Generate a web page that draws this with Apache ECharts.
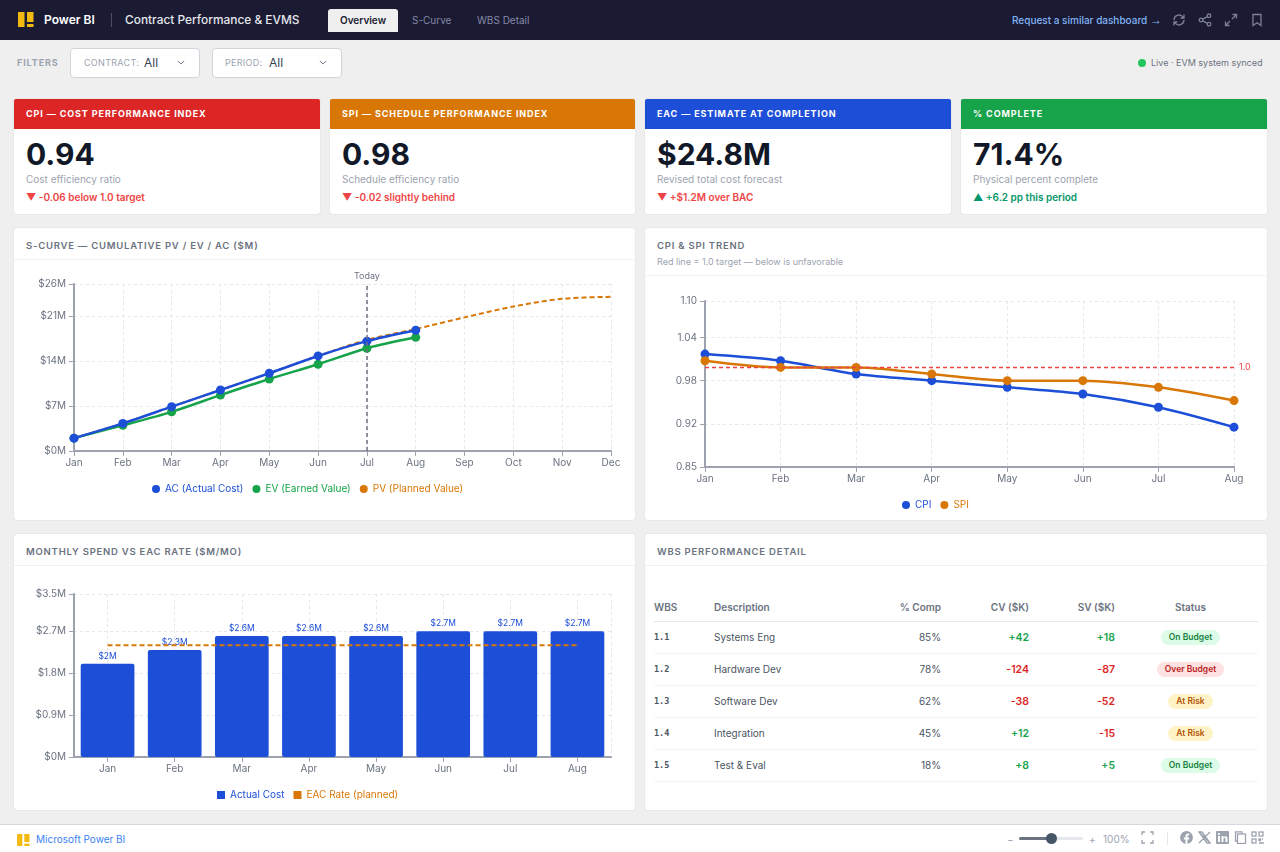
<!DOCTYPE html>
<html>
<head>
<meta charset="utf-8">
<title>Contract Performance & EVMS</title>
<script src="https://cdn.jsdelivr.net/npm/echarts@6/dist/echarts.min.js"></script>
<style>
* { box-sizing: border-box; margin: 0; padding: 0; }
html, body { width: 1280px; height: 852px; overflow: hidden; background: #f0efef; font-family: Inter, "Noto Sans", sans-serif; color: #111827; }
.topbar { position: absolute; left: 0; top: 0; width: 1280px; height: 40px; background: #1a1b33; }
.topbar > * { position: absolute; }
.brand { left: 44px; top: 12px; font-size: 12px; line-height: 16px; font-weight: 600; color: #fff; }
.divider { left: 111px; top: 13px; width: 1px; height: 14px; background: #4b4c66; }
.report { left: 125px; top: 11px; font-size: 11.9px; line-height: 18px; font-weight: 500; color: #e5e7eb; }
.tab { top: 9px; height: 23px; line-height: 23px; font-size: 10px; font-weight: 400; color: #8587a6; }
.tab.on { left: 328px; width: 70px; text-align: center; background: #f0efef; color: #1a1b33; font-weight: 600; border-radius: 3px 3px 0 0; }
.req { left: 1012px; top: 12px; font-size: 10px; line-height: 16px; font-weight: 500; color: #82b4f5; white-space: nowrap; }
.req i { font-family: "Liberation Sans", sans-serif; font-style: normal; font-size: 12px; }
.ico { width: 14px; height: 14px; top: 13px; fill: none; stroke: #7d7f92; stroke-width: 1.3; }
.filters > * { position: absolute; }
.flabel { left: 17px; top: 56px; font-size: 9px; line-height: 14px; font-weight: 700; letter-spacing: .9px; color: #9ca3af; }
.drop { top: 48px; width: 130px; height: 30px; background: #fff; border: 1px solid #d1d5db; border-radius: 4px; }
.drop span { position: absolute; top: 7px; font-size: 9px; line-height: 14px; letter-spacing: .3px; color: #9ca3af; }
.drop b { position: absolute; top: 6px; font-size: 12px; line-height: 16px; font-weight: 400; color: #374151; }
.drop svg { position: absolute; top: 10px; width: 8px; height: 7px; fill: none; stroke: #6b7280; stroke-width: 1.2; }
.live { left: 1151px; top: 56px; font-size: 9px; line-height: 14px; color: #6b7280; white-space: nowrap; }
.dot { left: 1138px; top: 59px; width: 8px; height: 8px; border-radius: 50%; background: #22c55e; }
.card { position: absolute; background: #fff; border-radius: 2px; box-shadow: 0 0 1px rgba(0,0,0,.28); overflow: hidden; }
.kpi { top: 99px; height: 115px; }
.kpi .head { height: 30px; padding-left: 12px; line-height: 30px; font-size: 9px; font-weight: 700; letter-spacing: .9px; color: #fff; white-space: nowrap; }
.kpi .val { position: absolute; left: 12px; top: 37px; font-size: 30px; line-height: 36px; font-weight: 700; color: #111827; }
.kpi .sub { position: absolute; left: 12px; top: 73px; font-size: 10px; line-height: 14px; color: #9ca3af; }
.kpi .delta { position: absolute; left: 12px; top: 91px; font-size: 10px; line-height: 14px; font-weight: 600; color: #ef4444; white-space: nowrap; }
.kpi .delta.up { color: #059669; }
.panel .title { position: absolute; left: 12px; top: 11px; font-size: 9.5px; line-height: 14px; font-weight: 600; letter-spacing: .77px; color: #6b7280; white-space: nowrap; }
.panel .note { position: absolute; left: 12px; top: 27px; font-size: 9px; line-height: 14px; color: #9ca3af; white-space: nowrap; }
.panel .rule { position: absolute; left: 0; right: 0; height: 1px; background: #f0f1f3; }
.chart { position: absolute; left: 0; right: 0; bottom: 0; }
table { position: absolute; left: 9px; top: 58px; width: 604px; border-collapse: collapse; table-layout: fixed; font-size: 10px; }
th { height: 29px; padding-top: 2px; font-weight: 600; color: #6b7280; text-align: left; border-bottom: 1px solid #e5e7eb; }
td { height: 32px; color: #4b5563; border-bottom: 1px solid #f3f4f6; }
.r { text-align: right; }
.c { text-align: center; padding-left: 8px; }
td.wbs { font-family: "DejaVu Sans Mono", monospace; font-size: 8.5px; font-weight: 700; color: #4b5563; }
td.num { font-weight: 600; font-size: 10.5px; }
.pos { color: #16a34a; }
.neg { color: #dc2626; }
.badge { display: inline-block; height: 15px; line-height: 15px; padding: 0 8px; border-radius: 8px; font-size: 8.5px; font-weight: 600; }
.badge.on { background: #dcfce7; color: #15803d; }
.badge.over { background: #fee2e2; color: #b91c1c; }
.badge.risk { background: #fef3c7; color: #b45309; }
.footer { position: absolute; left: 0; top: 824px; width: 1280px; height: 28px; background: #fff; border-top: 1px solid #d5d8dc; }
.footer > * { position: absolute; }
.ms { left: 36px; top: 7px; font-size: 10px; line-height: 14px; color: #3b82f6; }
.zoomtxt { top: 7px; font-size: 10px; line-height: 14px; color: #9ca3af; }
.track { left: 1019px; top: 12px; width: 64px; height: 3px; background: #e5e7eb; border-radius: 2px; }
.fill { left: 1019px; top: 12px; width: 32px; height: 3px; background: #6b7280; border-radius: 2px; }
.knob { left: 1046px; top: 8px; width: 11px; height: 11px; border-radius: 50%; background: #475569; }
.fic { top: 6px; width: 13px; height: 13px; fill: none; stroke: #9ca3af; stroke-width: 1.3; }
.fic.solid { fill: #9ca3af; stroke: none; }
.vbar { left: 1167px; top: 7px; width: 1px; height: 13px; background: #e5e7eb; }
</style>
</head>
<body>

<div class="topbar">
    <svg style="left:18px;top:12px;width:16px;height:16px" viewBox="0 0 16 16"><rect x="0" y="0" width="6.5" height="15" fill="#f2b90f"/><rect x="9" y="0" width="6.5" height="10" fill="#f2b90f"/><rect x="9" y="12" width="6.5" height="3" fill="#f2b90f"/></svg>
    <div class="brand">Power BI</div>
    <div class="divider"></div>
    <div class="report">Contract Performance &amp; EVMS</div>
    <div class="tab on">Overview</div>
    <div class="tab" style="left:412px">S-Curve</div>
    <div class="tab" style="left:477px">WBS Detail</div>
    <div class="req">Request a similar dashboard <i>→</i></div>
    <svg class="ico" style="left:1172px" viewBox="0 0 14 14"><path d="M2 7a5 5 0 0 1 8.6-3.4L12 5M12 1.5V5H8.6M12 7a5 5 0 0 1-8.6 3.4L2 9M2 12.5V9h3.4"/></svg>
    <svg class="ico" style="left:1198px" viewBox="0 0 14 14"><circle cx="11" cy="2.8" r="1.8"/><circle cx="3" cy="7" r="1.8"/><circle cx="11" cy="11.2" r="1.8"/><path d="M4.6 6.1l4.8-2.4M4.6 7.9l4.8 2.4"/></svg>
    <svg class="ico" style="left:1224px" viewBox="0 0 14 14"><path d="M8.5 1.5h4v4M12.5 1.5L8 6M5.5 12.5h-4v-4M1.5 12.5L6 8"/></svg>
    <svg class="ico" style="left:1250px" viewBox="0 0 14 14"><path d="M3 1.5h8v11L7 9.8 3 12.5z"/></svg>
</div>

<div class="filters">
    <div class="flabel">FILTERS</div>
    <div class="drop" style="left:70px"><span style="left:13px">CONTRACT:</span><b style="left:73px">All</b><svg style="left:106px" viewBox="0 0 10 8"><path d="M1 2l4 4 4-4"/></svg></div>
    <div class="drop" style="left:212px"><span style="left:12px">PERIOD:</span><b style="left:56px">All</b><svg style="left:106px" viewBox="0 0 10 8"><path d="M1 2l4 4 4-4"/></svg></div>
    <div class="dot"></div>
    <div class="live">Live · EVM system synced</div>
</div>

<div class="card kpi" style="left:14px;width:306px"><div class="head" style="background:#dc2626">CPI — COST PERFORMANCE INDEX</div><div class="val">0.94</div><div class="sub">Cost efficiency ratio</div><div class="delta">▼ -0.06 below 1.0 target</div></div>
<div class="card kpi" style="left:330px;width:305px"><div class="head" style="background:#d97706">SPI — SCHEDULE PERFORMANCE INDEX</div><div class="val">0.98</div><div class="sub">Schedule efficiency ratio</div><div class="delta">▼ -0.02 slightly behind</div></div>
<div class="card kpi" style="left:645px;width:306px"><div class="head" style="background:#1d4ed8">EAC — ESTIMATE AT COMPLETION</div><div class="val">$24.8M</div><div class="sub">Revised total cost forecast</div><div class="delta">▼ +$1.2M over BAC</div></div>
<div class="card kpi" style="left:961px;width:306px"><div class="head" style="background:#16a34a">% COMPLETE</div><div class="val">71.4%</div><div class="sub">Physical percent complete</div><div class="delta up">▲ +6.2 pp this period</div></div>

<div class="card panel" style="left:14px;top:228px;width:621px;height:292px">
    <div class="title">S-CURVE — CUMULATIVE PV / EV / AC ($M)</div>
    <div class="rule" style="top:31px"></div>
    <div class="chart" id="scurve_chart" style="top:32px"></div>
</div>
<div class="card panel" style="left:645px;top:228px;width:622px;height:292px">
    <div class="title">CPI &amp; SPI TREND</div>
    <div class="note" style="top:27px">Red line = 1.0 target — below is unfavorable</div>
    <div class="rule" style="top:47px"></div>
    <div class="chart" id="trend_chart" style="top:48px"></div>
</div>
<div class="card panel" style="left:14px;top:534px;width:621px;height:276px">
    <div class="title">MONTHLY SPEND VS EAC RATE ($M/MO)</div>
    <div class="rule" style="top:31px"></div>
    <div class="chart" id="spend_chart" style="top:32px"></div>
</div>
<div class="card panel" style="left:645px;top:534px;width:622px;height:276px">
    <div class="title">WBS PERFORMANCE DETAIL</div>
    <div class="rule" style="top:31px"></div>
    <table id="wbs_table">
        <colgroup><col style="width:60px"><col style="width:150px"><col style="width:77px"><col style="width:88px"><col style="width:86px"><col></colgroup>
        <thead><tr><th>WBS</th><th>Description</th><th class="r">% Comp</th><th class="r">CV ($K)</th><th class="r">SV ($K)</th><th class="c">Status</th></tr></thead>
        <tbody></tbody>
    </table>
</div>

<div class="footer">
    <svg style="left:17px;top:9px;width:13px;height:12px" viewBox="0 0 16 15"><rect x="0" y="0" width="6.5" height="15" fill="#f2b90f"/><rect x="9" y="0" width="6.5" height="10" fill="#f2b90f"/><rect x="9" y="12" width="6.5" height="3" fill="#f2b90f"/></svg>
    <div class="ms">Microsoft Power BI</div>
    <div class="zoomtxt" style="left:1007px">−</div>
    <div class="track"></div><div class="fill"></div><div class="knob"></div>
    <div class="zoomtxt" style="left:1089px">+</div>
    <div class="zoomtxt" style="left:1103px">100%</div>
    <svg class="fic" style="left:1141px" viewBox="0 0 13 13"><path d="M1 4V1h3M9 1h3v3M12 9v3H9M4 12H1V9"/></svg>
    <div class="vbar"></div>
    <svg class="fic solid" style="left:1180px" viewBox="0 0 13 13"><path d="M6.5 0a6.5 6.5 0 0 0-1 12.9V8.4H3.8V6.5h1.7V5c0-1.6 1-2.5 2.4-2.5l1.4.1v1.6h-.8c-.8 0-1 .5-1 1v1.3h1.8l-.3 1.9H7.5v4.5A6.5 6.5 0 0 0 6.5 0z"/></svg>
    <svg class="fic" style="left:1198px" viewBox="0 0 13 13"><path d="M1 1l11 11M12 1L1 12M1 1h3l8 11H9z"/></svg>
    <svg class="fic solid" style="left:1216px" viewBox="0 0 13 13"><path d="M1 0h11a1 1 0 0 1 1 1v11a1 1 0 0 1-1 1H1a1 1 0 0 1-1-1V1a1 1 0 0 1 1-1zm1 5v6h2V5zm1-3a1.1 1.1 0 1 0 0 2.2A1.1 1.1 0 0 0 3 2zm2.5 3v6h2V8c0-1.5 2-1.6 2 0v3h2V7.5c0-2.8-3-2.7-4-1.3V5z" fill-rule="evenodd"/></svg>
    <svg class="fic" style="left:1234px" viewBox="0 0 13 13"><rect x="3.5" y="3" width="8" height="9.5"/><path d="M3.5 10H1.5V.8h6.5V3"/></svg>
    <svg class="fic" style="left:1251px" viewBox="0 0 13 13"><rect x="1" y="1" width="4" height="4"/><rect x="8" y="1" width="4" height="4"/><rect x="1" y="8" width="4" height="4"/><path d="M8 8h1.5v1.5H8zM11 8h1M8 12h4v-1"/></svg>
</div>

<script>
// s-curve, $M cumulative
const MonthsFull = ['Jan', 'Feb', 'Mar', 'Apr', 'May', 'Jun', 'Jul', 'Aug', 'Sep', 'Oct', 'Nov', 'Dec'];
const AcCum = [2.0, 4.3, 6.9, 9.5, 12.1, 14.8, 17.1, 18.8];
const EvCum = [2.0, 4.0, 6.1, 8.7, 11.2, 13.5, 16.0, 17.7];
const PvCum = [2.0, 4.3, 6.9, 9.5, 12.1, 14.8, 17.3, 19.0, 20.8, 22.5, 23.7, 24.0];

// index trend
const MonthsActual = ['Jan', 'Feb', 'Mar', 'Apr', 'May', 'Jun', 'Jul', 'Aug'];
const CpiTrend = [1.02, 1.01, 0.99, 0.98, 0.97, 0.96, 0.94, 0.91];
const SpiTrend = [1.01, 1.00, 1.00, 0.99, 0.98, 0.98, 0.97, 0.95];
const TargetTrend = [1, 1, 1, 1, 1, 1, 1, 1];

// monthly spend, $M
const SpendActual = [2.0, 2.3, 2.6, 2.6, 2.6, 2.7, 2.7, 2.7];
const SpendEac = [2.4, 2.4, 2.4, 2.4, 2.4, 2.4, 2.4, 2.4];

// wbs table
const WbsCodes = ['1.1', '1.2', '1.3', '1.4', '1.5'];
const WbsNames = ['Systems Eng', 'Hardware Dev', 'Software Dev', 'Integration', 'Test & Eval'];
const WbsComp = [85, 78, 62, 45, 18];
const WbsCv = [42, -124, -38, 12, 8];
const WbsSv = [18, -87, -52, -15, 5];
const WbsStatus = ['On Budget', 'Over Budget', 'At Risk', 'At Risk', 'On Budget'];

const BLUE = '#1d4ed8', GREEN = '#16a34a', ORANGE = '#d97706', RED = '#ef4444';
const FONT = 'Inter';

function signed(v) {
    return (v > 0 ? '+' : '-') + Math.abs(v);
}

function render_table() {
    const badge = {'On Budget': 'on', 'Over Budget': 'over', 'At Risk': 'risk'};
    let rows = '';
    WbsCodes.forEach(function (code, i) {
        rows += '<tr><td class="wbs">' + code + '</td>'
            + '<td>' + WbsNames[i].replace('&', '&amp;') + '</td>'
            + '<td class="r">' + WbsComp[i] + '%</td>'
            + '<td class="r num ' + (WbsCv[i] > 0 ? 'pos' : 'neg') + '">' + signed(WbsCv[i]) + '</td>'
            + '<td class="r num ' + (WbsSv[i] > 0 ? 'pos' : 'neg') + '">' + signed(WbsSv[i]) + '</td>'
            + '<td class="c"><span class="badge ' + badge[WbsStatus[i]] + '">' + WbsStatus[i] + '</span></td></tr>';
    });
    document.querySelector('#wbs_table tbody').innerHTML = rows;
}

function x_axis(data, boundaryGap) {
    return {
        type: 'category',
        data: data,
        boundaryGap: boundaryGap,
        axisLine: {lineStyle: {color: '#9ca3af', width: 2}},
        axisTick: {show: true, alignWithLabel: true, length: 5, lineStyle: {color: '#9ca3af', width: 1}},
        axisLabel: {fontFamily: FONT, fontSize: 10, color: '#6b7280', margin: 7, interval: 0, showMinLabel: true, showMaxLabel: true},
        splitLine: {show: true, alignWithLabel: true, lineStyle: {color: '#e5e7eb', type: [3, 3]}}
    };
}

function y_axis(min, max, interval, formatter) {
    return {
        type: 'value',
        min: min,
        max: max,
        interval: interval,
        axisLine: {show: true, lineStyle: {color: '#9ca3af', width: 2}},
        axisTick: {show: true, length: 5, lineStyle: {color: '#9ca3af', width: 1}},
        axisLabel: {fontFamily: FONT, fontSize: 10, color: '#6b7280', margin: 8, padding: [4, 0, 0, 0], formatter: formatter, showMinLabel: true, showMaxLabel: true},
        splitLine: {show: true, lineStyle: {color: '#e5e7eb', type: [3, 3]}}
    };
}

function legend(left, top, icon, names) {
    return {
        left: left,
        top: top,
        icon: icon,
        itemWidth: 8,
        itemHeight: 8,
        itemGap: 9,
        data: names,
        textStyle: {fontFamily: FONT, fontSize: 10, color: 'inherit'}
    };
}

function line_series(name, data, color, z) {
    return {
        name: name,
        type: 'line',
        data: data,
        smooth: 0.3,
        z: z,
        symbol: 'circle',
        symbolSize: 9,
        itemStyle: {color: color},
        lineStyle: {color: color, width: 2.5}
    };
}

function render_scurve() {
    let ac = line_series('AC (Actual Cost)', AcCum, BLUE, 4);
    ac.markLine = {
        silent: true,
        symbol: 'none',
        lineStyle: {color: '#6b7280', type: [4, 3], width: 1.5},
        label: {formatter: 'Today', position: 'end', fontFamily: FONT, fontSize: 9, color: '#6b7280', distance: 3},
        data: [{xAxis: 'Jul'}]
    };
    let pv = line_series('PV (Planned Value)', PvCum, ORANGE, 2);
    pv.symbol = 'none';
    pv.lineStyle = {color: ORANGE, width: 2, type: [5, 3]};

    let chart = echarts.init(document.getElementById('scurve_chart'));
    chart.setOption({
        animation: false,
        grid: {top: 24, left: 60, right: 24, bottom: 69},
        legend: legend(133, 219, 'circle', ['AC (Actual Cost)', 'EV (Earned Value)', 'PV (Planned Value)']),
        xAxis: x_axis(MonthsFull, false),
        yAxis: y_axis(0, 26, 7, '${value}M'),
        series: [ac, line_series('EV (Earned Value)', EvCum, GREEN, 3), pv]
    });
}

function render_trend() {
    let chart = echarts.init(document.getElementById('trend_chart'));
    chart.setOption({
        animation: false,
        grid: {top: 25, left: 60, right: 33, bottom: 53},
        legend: legend(252, 219, 'circle', ['CPI', 'SPI']),
        xAxis: x_axis(MonthsActual, false),
        yAxis: y_axis(0.85, 1.1, 0.065, function (value) { return value.toFixed(2); }),
        series: [line_series('CPI', CpiTrend, BLUE, 3), line_series('SPI', SpiTrend, ORANGE, 4), {
            name: 'Target',
            type: 'line',
            data: TargetTrend,
            symbol: 'none',
            silent: true,
            z: 5,
            itemStyle: {color: RED},
            lineStyle: {color: RED, width: 1.5, type: [4, 3]},
            endLabel: {show: true, formatter: '1.0', fontFamily: FONT, fontSize: 9, color: RED, distance: 5}
        }]
    });
}

function render_spend() {
    let chart = echarts.init(document.getElementById('spend_chart'));
    chart.setOption({
        animation: false,
        grid: {top: 28, left: 60, right: 24, bottom: 53},
        legend: legend(198, 219, 'rect', [
            {name: 'Actual Cost', itemStyle: {color: BLUE}},
            {name: 'EAC Rate (planned)', icon: 'rect', itemStyle: {color: ORANGE}}
        ]),
        xAxis: [x_axis(MonthsActual, true), {
            type: 'value', min: 0, max: 1, interval: 1, position: 'top',
            axisLine: {show: false}, axisTick: {show: false}, axisLabel: {show: false},
            splitLine: {show: true, lineStyle: {color: '#e5e7eb', type: [3, 3]}}
        }],
        yAxis: y_axis(0, 3.5, 0.9, '${value}M'),
        series: [{
            name: 'Actual Cost',
            type: 'bar',
            data: SpendActual,
            barCategoryGap: '20%',
            itemStyle: {color: BLUE, borderRadius: 2},
            label: {show: true, position: 'top', distance: 3, fontFamily: FONT, fontSize: 8.5, color: BLUE, formatter: '${c}M'}
        }, {
            name: 'EAC Rate (planned)',
            type: 'line',
            data: SpendEac,
            symbol: 'none',
            z: 5,
            itemStyle: {color: ORANGE},
            lineStyle: {color: ORANGE, width: 2, type: [5, 3]}
        }]
    });
}

render_table();
render_scurve();
render_trend();
render_spend();
</script>
</body>
</html>
